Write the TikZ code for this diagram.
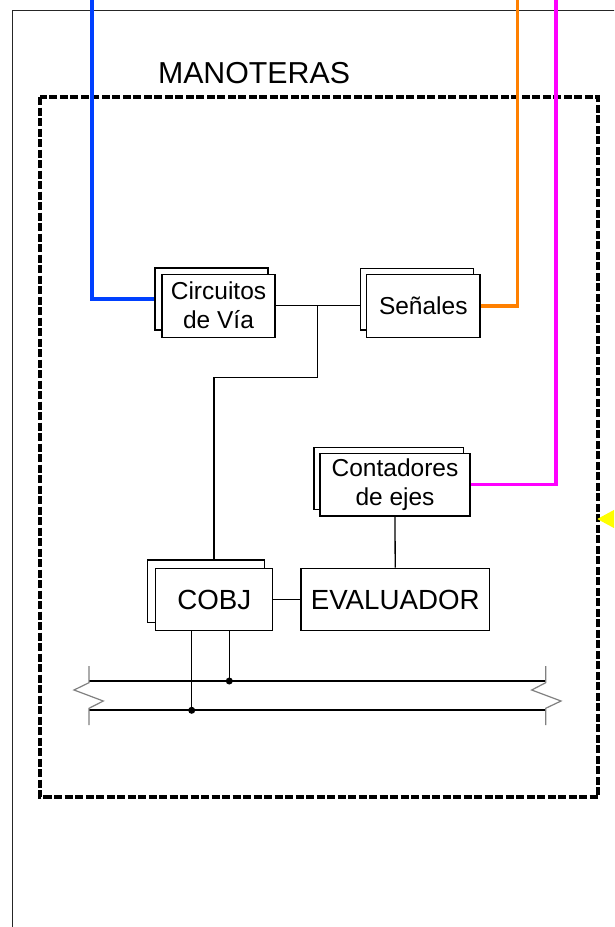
\documentclass[tikz,border=0pt]{standalone}
\usepackage{fontspec}
\setmainfont{Liberation Sans}
\definecolor{sigblue}{RGB}{0,64,255}
\definecolor{sigorange}{RGB}{255,128,0}
\definecolor{sigmag}{RGB}{255,0,255}
\definecolor{sigyellow}{RGB}{255,255,0}
\definecolor{brkgray}{RGB}{128,128,128}
\begin{document}
\begin{tikzpicture}[x=1pt,y=-1pt,
  box/.style={draw=black, line width=1.3pt, fill=white, inner sep=0pt, align=center,
    font=\fontsize{24.5}{29}\selectfont},
  bigbox/.style={box, font=\fontsize{27.7}{32}\selectfont},
  wire/.style={line width=1.3pt, black},
  busline/.style={line width=2.2pt, black},
  brk/.style={line width=1.2pt, brkgray},
  sig/.style={line width=3.5pt},
  frameline/.style={line width=1pt, black!85},
  dashframe/.style={line width=3.5pt, dash pattern=on 8pt off 2.5pt, black}]
\useasboundingbox (0,0) rectangle (614,927);
\clip (0,0) rectangle (614,927);
\fill[white] (0,0) rectangle (614,927);

% outer frame
\draw[frameline] (620,10) -- (12,10) -- (12,935);

% dashed container
\draw[dashframe] (40,97) rectangle (598,797);
\node[anchor=base, font=\fontsize{30.3}{34}\selectfont] (title) at (254,83.5) {MANOTERAS};

% back boxes
\node[box, minimum width=113pt, minimum height=62pt] (circB) at (211.5,299) {};
\node[box, minimum width=112.6pt, minimum height=61.7pt] (senB) at (417,299.2) {};
\node[box, minimum width=149.3pt, minimum height=62pt] (contB) at (388.7,478.3) {};
\node[box, minimum width=117pt, minimum height=62.3pt] (cobjB) at (205.8,591.2) {};

% front boxes
\node[box, minimum width=113pt, minimum height=63pt] (circ) at (218.5,305.7) {Circuitos\\de Vía};
\node[box, minimum width=113.3pt, minimum height=63pt] (sen) at (423.3,305.8) {Señales};
\node[box, minimum width=150pt, minimum height=62.7pt] (cont) at (395,484.7) {Contadores\\de ejes};
\node[bigbox, minimum width=117pt, minimum height=62.4pt] (cobj) at (214.2,599.5) {COBJ};
\node[bigbox, minimum width=188.3pt, minimum height=62.4pt] (eval) at (395.2,599.5) {EVALUADOR};

% coloured signal lines
\coordinate (blueTop) at (92,-2);
\coordinate (orangeTop) at (517.5,-2);
\coordinate (magTop) at (556,-2);
\draw[sig, sigblue] (blueTop) |- (circB.west);
\draw[sig, sigorange] (sen.east) -| (orangeTop);
\draw[sig, sigmag] (cont.east) -| (magTop);

% black wiring
\coordinate (j1) at (317.7,305.7);
\coordinate (j2) at (214,377.7);
\draw[wire] (circ.east) -- (circ.east -| senB.west);
\draw[wire] (j1) |- (j2) -- (j2 |- cobjB.north);
\draw[wire] (cont.south) -- (eval.north);
\draw[wire] (cobj.east) -- (eval.west);

% bus
\coordinate (busAL) at (89,681);
\coordinate (busAR) at (545.7,681);
\coordinate (busBL) at (89,710.3);
\coordinate (busBR) at (545.7,710.3);
\draw[busline] (busAL) -- (busAR);
\draw[busline] (busBL) -- (busBR);
\coordinate (tapA) at (229.3,681);
\coordinate (tapB) at (191.7,710.3);
\draw[wire] (tapA |- cobj.south) -- (tapA);
\draw[wire] (tapB |- cobj.south) -- (tapB);
\fill (tapA) circle (3.5pt);
\fill (tapB) circle (3.5pt);

% break symbols
\draw[brk] (89,666) -- (89,682.7) -- (74,690) -- (103.3,701) -- (89,708.3) -- (89,725);
\draw[brk] (545.7,666) -- (545.7,682.7) -- (531.7,690) -- (561,701) -- (545.7,708.3) -- (545.7,725);

% yellow arrow head at right edge
\fill[sigyellow] (597.3,519) -- (625,504) -- (625,534) -- cycle;
\end{tikzpicture}
\end{document}
